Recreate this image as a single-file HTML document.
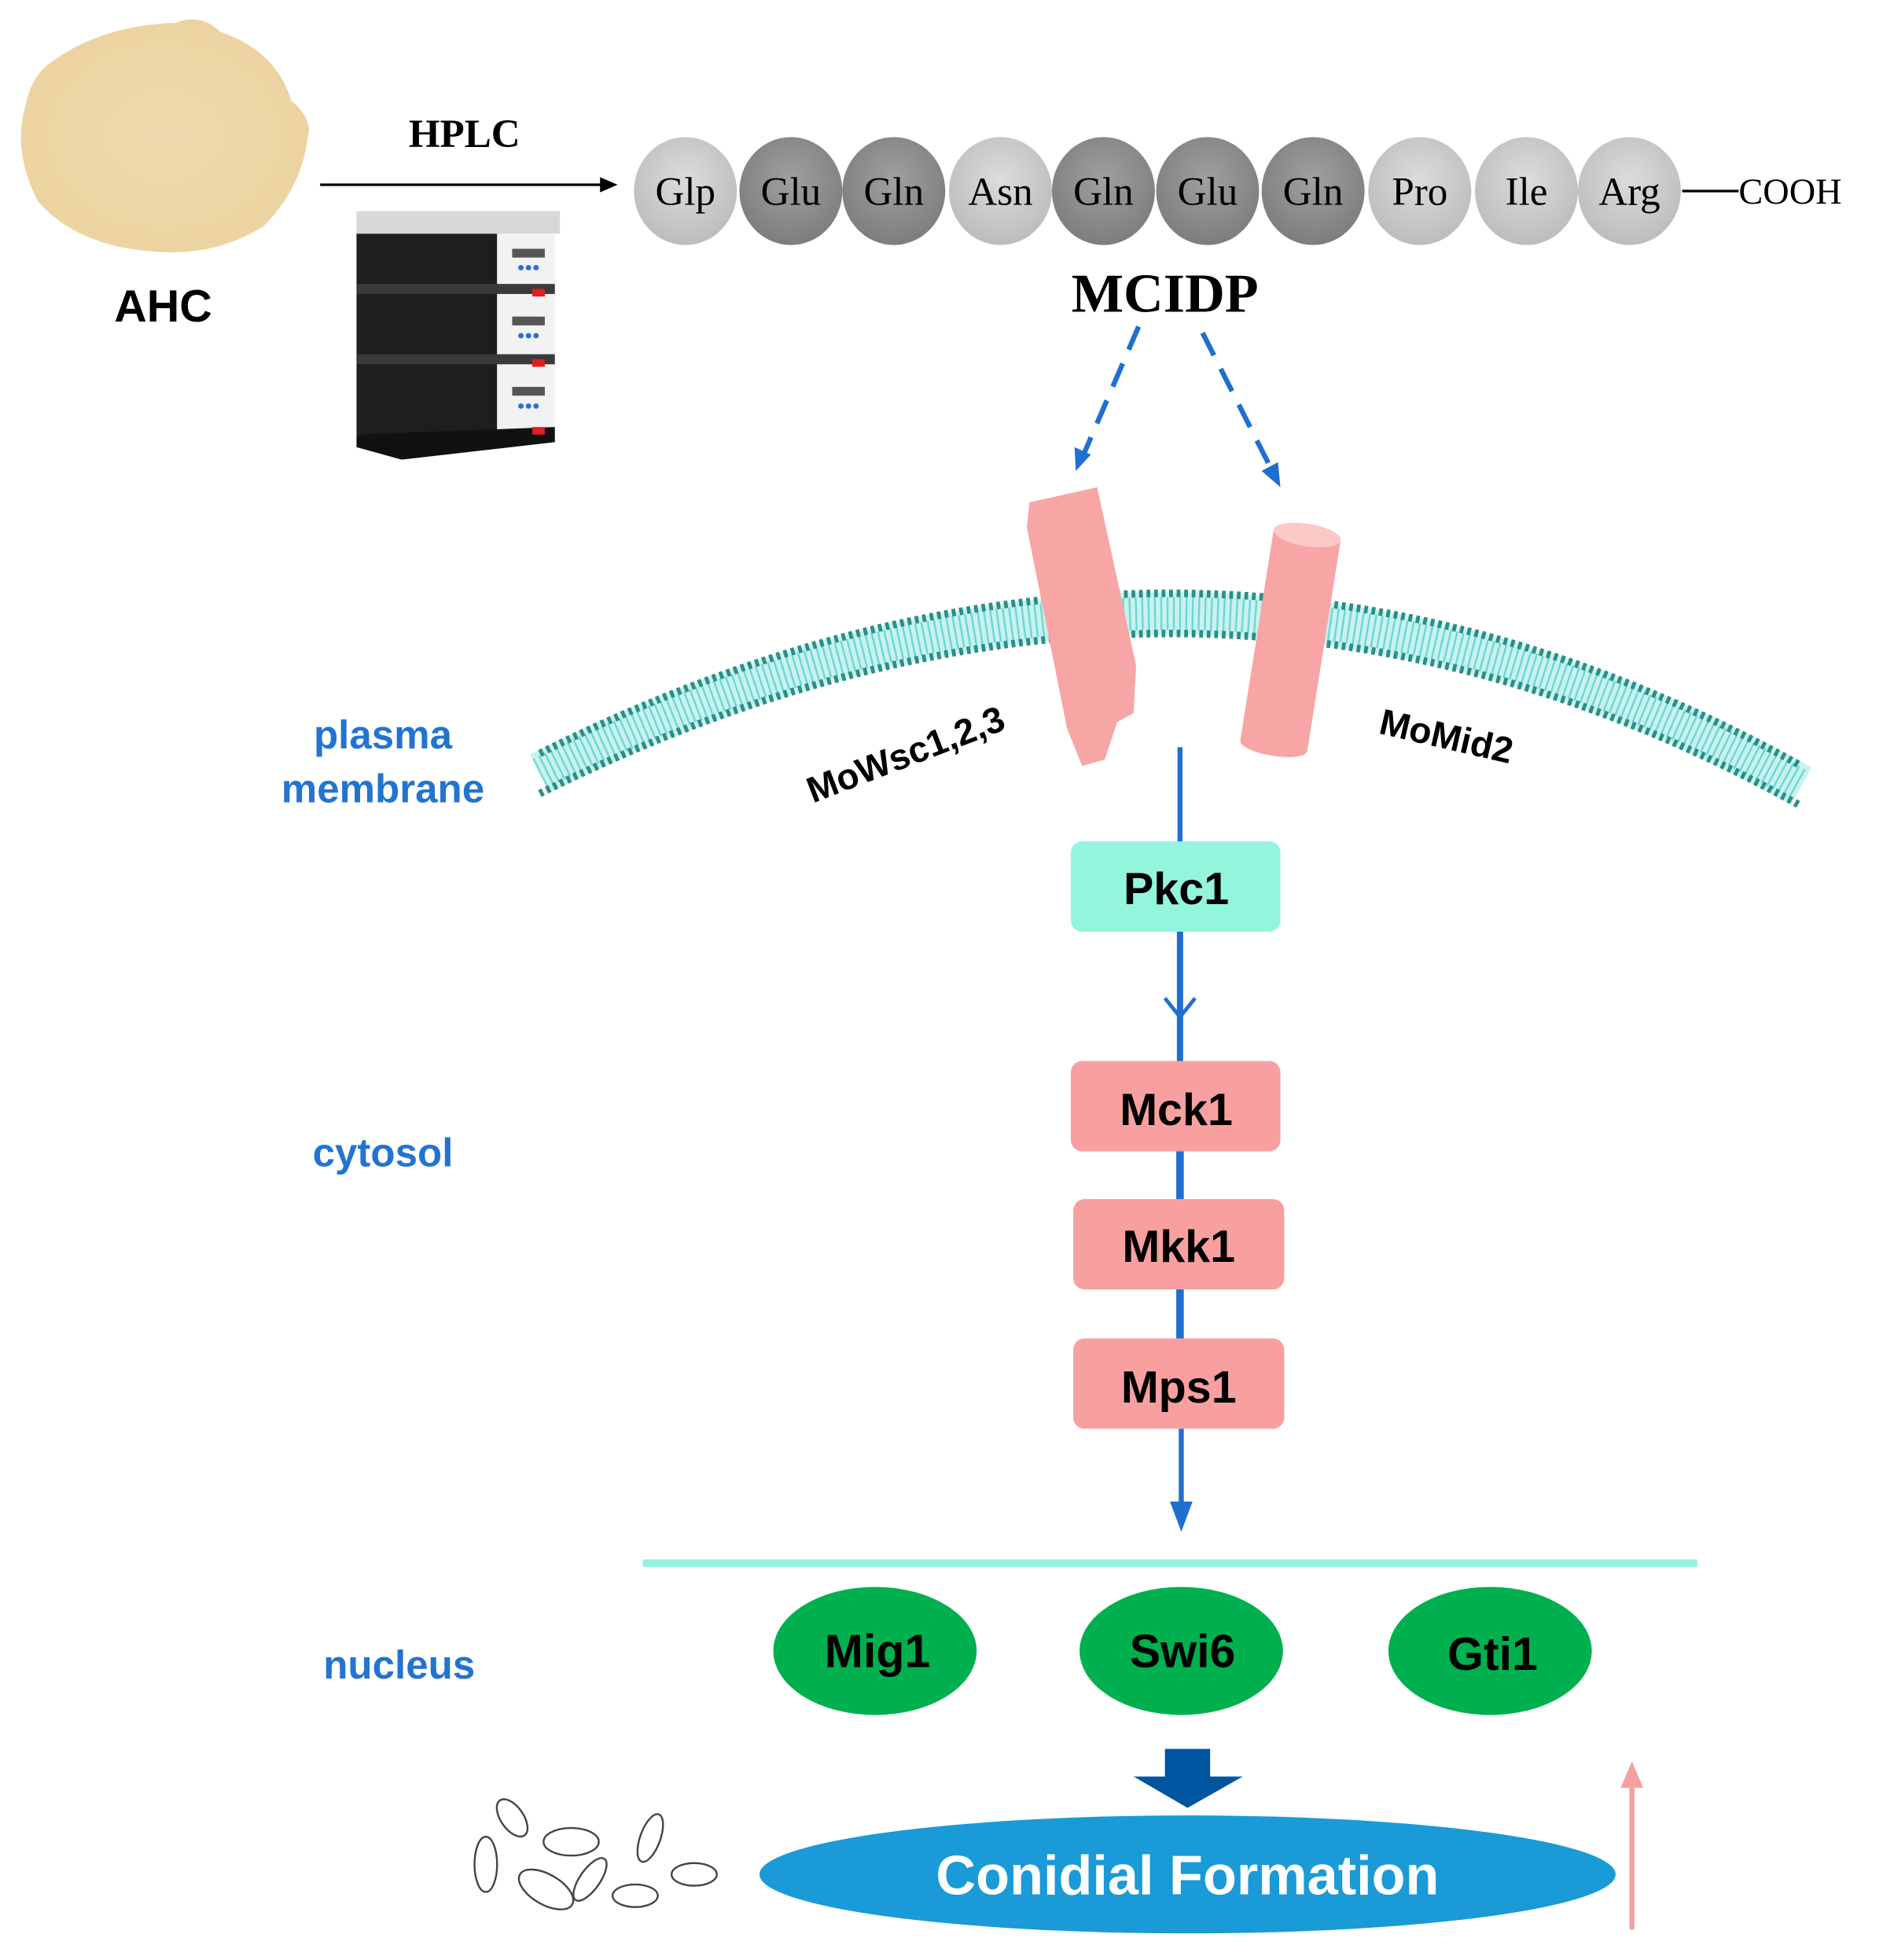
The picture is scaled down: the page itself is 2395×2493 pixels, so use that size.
<!DOCTYPE html>
<html><head><meta charset="utf-8"><style>
html,body{margin:0;padding:0;background:#fff;}
svg{display:block;}
.s{font-family:"Liberation Sans",sans-serif;font-weight:bold;}
.r{font-family:"Liberation Serif",serif;}
</style></head><body>
<svg width="2395" height="2493" viewBox="0 0 1500 1561" xmlns="http://www.w3.org/2000/svg">
<defs>
<radialGradient id="lg" cx="50%" cy="40%" r="60%"><stop offset="0" stop-color="#dcdcdc"/><stop offset="1" stop-color="#bcbcbc"/></radialGradient>
<radialGradient id="dg" cx="50%" cy="40%" r="60%"><stop offset="0" stop-color="#a0a0a0"/><stop offset="1" stop-color="#7d7d7d"/></radialGradient>
<radialGradient id="pw" cx="50%" cy="50%" r="55%"><stop offset="0" stop-color="#f0d9ad"/><stop offset="1" stop-color="#ecd3a0"/></radialGradient>
</defs>
<!-- powder -->
<path d="M40,50 Q80,20 140,18 Q160,10 175,25 Q220,40 232,80 Q250,95 245,110 Q240,150 210,180 Q170,205 120,200 Q60,195 30,160 Q10,120 20,85 Q25,60 40,50Z" fill="url(#pw)"/>
<text x="130" y="256" class="s" font-size="36" text-anchor="middle">AHC</text>
<!-- HPLC -->
<text x="370" y="117" class="r" font-weight="bold" font-size="32" text-anchor="middle">HPLC</text>
<line x1="255" y1="147" x2="480" y2="147" stroke="#000" stroke-width="2"/>
<polygon points="492,147 478,141 478,153" fill="#000"/>
<g>
<rect x="284" y="168" width="162" height="18" fill="#d8d8d8"/>
<rect x="284" y="186" width="112" height="160" fill="#1e1e1e"/>
<rect x="396" y="186" width="46" height="160" fill="#f2f2f2"/>
<rect x="284" y="226" width="158" height="8" fill="#3a3a3a"/>
<rect x="284" y="282" width="158" height="8" fill="#3a3a3a"/>
<polygon points="284,346 442,340 442,352 320,366 284,356" fill="#111"/>
<rect x="408" y="198" width="26" height="7" fill="#555"/><rect x="408" y="252" width="26" height="7" fill="#555"/><rect x="408" y="308" width="26" height="7" fill="#555"/>
<text x="421" y="216" font-size="10" fill="#2a6fd0" text-anchor="middle">●●●</text>
<text x="421" y="270" font-size="10" fill="#2a6fd0" text-anchor="middle">●●●</text>
<text x="421" y="326" font-size="10" fill="#2a6fd0" text-anchor="middle">●●●</text>
<rect x="424" y="230" width="10" height="6" fill="#e02020"/><rect x="424" y="286" width="10" height="6" fill="#e02020"/><rect x="424" y="340" width="10" height="6" fill="#e02020"/>
</g>
<!-- beads -->
<g class="r" font-size="32" text-anchor="middle">
<ellipse cx="546" cy="152" rx="41" ry="43" fill="url(#lg)"/>
<ellipse cx="630" cy="152" rx="41" ry="43" fill="url(#dg)"/>
<ellipse cx="712" cy="152" rx="41" ry="43" fill="url(#dg)"/>
<ellipse cx="797" cy="152" rx="41" ry="43" fill="url(#lg)"/>
<ellipse cx="879" cy="152" rx="41" ry="43" fill="url(#dg)"/>
<ellipse cx="962" cy="152" rx="41" ry="43" fill="url(#dg)"/>
<ellipse cx="1046" cy="152" rx="41" ry="43" fill="url(#dg)"/>
<ellipse cx="1131" cy="152" rx="41" ry="43" fill="url(#lg)"/>
<ellipse cx="1216" cy="152" rx="41" ry="43" fill="url(#lg)"/>
<ellipse cx="1298" cy="152" rx="41" ry="43" fill="url(#lg)"/>
<text x="546" y="163">Glp</text><text x="630" y="163">Glu</text><text x="712" y="163">Gln</text><text x="797" y="163">Asn</text><text x="879" y="163">Gln</text><text x="962" y="163">Glu</text><text x="1046" y="163">Gln</text><text x="1131" y="163">Pro</text><text x="1216" y="163">Ile</text><text x="1298" y="163">Arg</text>
</g>
<line x1="1340" y1="152" x2="1385" y2="152" stroke="#000" stroke-width="2"/>
<text x="1385" y="162" class="r" font-size="29">COOH</text>
<text x="928" y="248" class="r" font-weight="bold" font-size="44" text-anchor="middle">MCIDP</text>
<!-- dashed arrows -->
<line x1="907" y1="260" x2="864" y2="360" stroke="#1f6fd0" stroke-width="4" stroke-dasharray="20,12"/>
<polygon points="857,375 856,356 869,362" fill="#1f6fd0"/>
<line x1="958" y1="265" x2="1012" y2="372" stroke="#1f6fd0" stroke-width="4" stroke-dasharray="20,12"/>
<polygon points="1020,388 1005,375 1018,368" fill="#1f6fd0"/>
<!-- membrane -->
<path d="M430,616 Q950,356 1435,626" fill="none" stroke="#c7f2f0" stroke-width="34"/>
<path d="M430,616 Q950,356 1435,626" fill="none" stroke="#6fd6d0" stroke-width="26" stroke-dasharray="1.5,3.5"/>
<path d="M430,600 Q950,340 1435,610" fill="none" stroke="#2a8f86" stroke-width="6" stroke-dasharray="3,3"/>
<path d="M430,632 Q950,372 1435,642" fill="none" stroke="#2a8f86" stroke-width="6" stroke-dasharray="3,3"/>
<!-- receptors -->
<polygon points="820,400 874,388 905,530 903,568 890,575 880,605 862,610 850,580 822,440 818,420" fill="#f8a5a5"/>
<g transform="rotate(9 1028 510)">
<rect x="1001" y="425" width="54" height="170" fill="#f8a5a5"/>
<ellipse cx="1028" cy="425" rx="27" ry="9" fill="#fcc8c8"/>
<ellipse cx="1028" cy="595" rx="27" ry="8" fill="#f8a5a5"/>
</g>
<text class="s" font-size="32" fill="#2374d0" text-anchor="middle" x="305" y="596">plasma</text>
<text class="s" font-size="32" fill="#2374d0" text-anchor="middle" x="305" y="639">membrane</text>
<text class="s" font-size="29" transform="translate(725,610) rotate(-21)" text-anchor="middle">MoWsc1,2,3</text>
<text class="s" font-size="29" transform="translate(1150,596) rotate(13)" text-anchor="middle">MoMid2</text>
<!-- pathway -->
<line x1="940" y1="595" x2="940" y2="672" stroke="#1f6fd0" stroke-width="4"/>
<rect x="853" y="670" width="167" height="72" rx="9" fill="#94f5dd"/>
<text x="937" y="720" class="s" font-size="36" text-anchor="middle">Pkc1</text>
<line x1="940" y1="742" x2="940" y2="847" stroke="#1f6fd0" stroke-width="5"/>
<polyline points="928,795 940,810 952,795" fill="none" stroke="#1f6fd0" stroke-width="3"/>
<line x1="940" y1="915" x2="940" y2="957" stroke="#1f6fd0" stroke-width="6"/>
<line x1="940" y1="1025" x2="940" y2="1068" stroke="#1f6fd0" stroke-width="6"/>
<rect x="853" y="845" width="167" height="72" rx="9" fill="#f8a0a0"/>
<text x="937" y="896" class="s" font-size="36" text-anchor="middle">Mck1</text>
<rect x="855" y="955" width="168" height="72" rx="9" fill="#f8a0a0"/>
<text x="939" y="1005" class="s" font-size="36" text-anchor="middle">Mkk1</text>
<rect x="855" y="1066" width="168" height="72" rx="9" fill="#f8a0a0"/>
<text x="939" y="1117" class="s" font-size="36" text-anchor="middle">Mps1</text>
<line x1="941" y1="1138" x2="941" y2="1200" stroke="#1f6fd0" stroke-width="4"/>
<polygon points="941,1220 932,1196 950,1196" fill="#1f6fd0"/>
<line x1="512" y1="1245" x2="1352" y2="1245" stroke="#94f5dd" stroke-width="6"/>
<text class="s" font-size="32" fill="#2374d0" text-anchor="middle" x="305" y="929">cytosol</text>
<text class="s" font-size="32" fill="#2374d0" text-anchor="middle" x="318" y="1337">nucleus</text>
<ellipse cx="697" cy="1315" rx="81" ry="51" fill="#00b04e"/>
<ellipse cx="941" cy="1315" rx="81" ry="51" fill="#00b04e"/>
<ellipse cx="1187" cy="1315" rx="81" ry="51" fill="#00b04e"/>
<text x="699" y="1328" class="s" font-size="37" text-anchor="middle">Mig1</text>
<text x="942" y="1328" class="s" font-size="37" text-anchor="middle">Swi6</text>
<text x="1189" y="1330" class="s" font-size="37" text-anchor="middle">Gti1</text>
<polygon points="928,1393 964,1393 964,1415 990,1415 946,1440 903,1415 928,1415" fill="#0055a0"/>
<ellipse cx="946" cy="1493" rx="341" ry="47" fill="#1a9ad6"/>
<text x="946" y="1509" class="s" font-size="44" fill="#fff" text-anchor="middle">Conidial Formation</text>
<line x1="1300" y1="1537" x2="1300" y2="1420" stroke="#f4a0a0" stroke-width="4"/>
<polygon points="1300,1403 1291,1424 1309,1424" fill="#f4a0a0"/>
<!-- conidia -->
<g fill="none" stroke="#444" stroke-width="1.5">
<ellipse cx="387" cy="1485" rx="9" ry="22"/>
<ellipse cx="408" cy="1448" rx="9" ry="17" transform="rotate(-35 408 1448)"/>
<ellipse cx="455" cy="1467" rx="22" ry="11"/>
<ellipse cx="518" cy="1464" rx="8" ry="20" transform="rotate(20 518 1464)"/>
<ellipse cx="435" cy="1505" rx="24" ry="12" transform="rotate(30 435 1505)"/>
<ellipse cx="470" cy="1497" rx="8" ry="20" transform="rotate(35 470 1497)"/>
<ellipse cx="506" cy="1510" rx="18" ry="9"/>
<ellipse cx="553" cy="1493" rx="18" ry="9"/>
</g>
</svg>
</body></html>
